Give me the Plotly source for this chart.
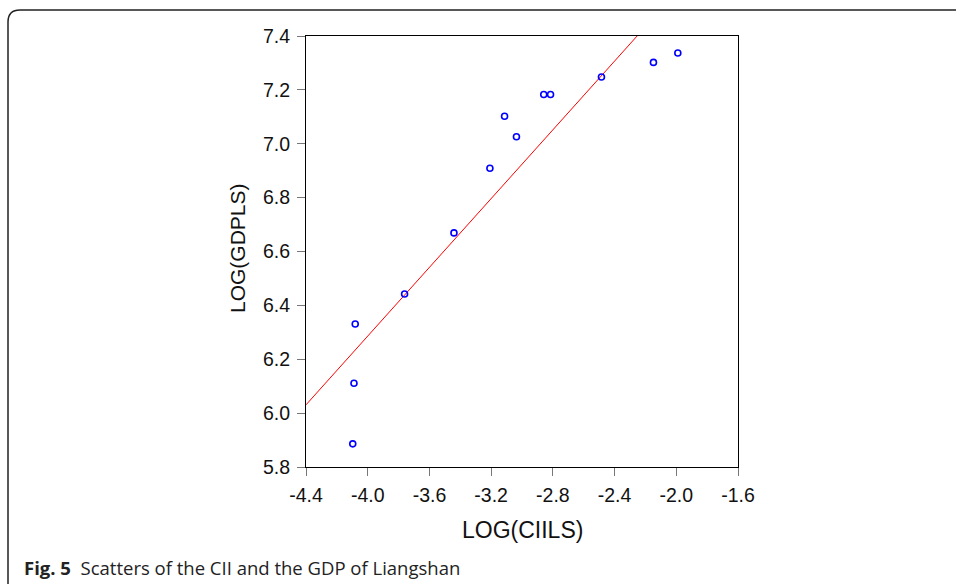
import numpy as np
import plotly.graph_objects as go

# Data
log_ciils = [-4.097, -4.089, -4.081, -3.761, -3.441, -3.208, -3.113, -3.036,
             -2.859, -2.815, -2.485, -2.148, -1.990]
log_gdpls = [5.886, 6.111, 6.331, 6.442, 6.669, 6.909, 7.102, 7.026,
             7.183, 7.183, 7.248, 7.302, 7.337]
fit_intercept = 8.838
fit_slope = 0.638

x_ticks = [-4.4, -4.0, -3.6, -3.2, -2.8, -2.4, -2.0, -1.6]
y_ticks = [5.8, 6.0, 6.2, 6.4, 6.6, 6.8, 7.0, 7.2, 7.4]
x_range = [-4.4, -1.6]
y_range = [5.8, 7.4]

W, H = 956, 584
L, R, T, B = 306, 218, 36, 117
pw, ph = W - L - R, H - T - B

def px(x):
    return (x - L) / pw

def py(y):
    return (H - B - y) / ph

fx = np.linspace(x_range[0], x_range[1], 200)
fy = fit_intercept + fit_slope * fx

fig = go.Figure()
fig.add_trace(go.Scatter(x=fx, y=fy, mode="lines",
                         line=dict(color="#ff0000", width=1), hoverinfo="skip"))
fig.add_trace(go.Scatter(x=log_ciils, y=log_gdpls, mode="markers",
                         marker=dict(symbol="circle-open", size=6,
                                     color="#0000ff", line=dict(width=1.6))))

axis_common = dict(showgrid=False, zeroline=False, showline=True, linecolor="black",
                   linewidth=1, mirror=True, ticks="outside", ticklen=8,
                   tickcolor="#777777", tickwidth=1.3, ticklabelstandoff=3,
                   tickfont=dict(family="Liberation Sans, Arial", size=19.5, color="#111111"))

fig.update_xaxes(range=x_range, tickvals=x_ticks,
                 ticktext=[f"{v:.1f}" for v in x_ticks], **axis_common)
fig.update_yaxes(range=y_range, tickvals=y_ticks,
                 ticktext=[f"{v:.1f}" for v in y_ticks], **axis_common)

# Frame around figure (top line, rounded corner, left line)
r = 12
x0, y0 = 8, 10
path = (f"M {px(W + 5)},{py(y0)} L {px(x0 + r)},{py(y0)} "
        f"Q {px(x0)},{py(y0)} {px(x0)},{py(y0 + r)} L {px(x0)},{py(H + 5)}")
fig.add_shape(type="path", path=path, xref="paper", yref="paper",
              line=dict(color="#222222", width=1.5))

fig.add_annotation(text="LOG(CIILS)", x=px(522), y=py(530), xref="paper", yref="paper",
                   xanchor="center", yanchor="middle", showarrow=False,
                   font=dict(family="Liberation Sans, Arial", size=23, color="#111111"))
fig.add_annotation(text="LOG(GDPLS)", x=px(237), y=py(248), xref="paper", yref="paper",
                   xanchor="center", yanchor="middle", textangle=-90, showarrow=False,
                   font=dict(family="Liberation Sans, Arial", size=21, color="#111111"))
fig.add_annotation(text="<b>Fig. 5</b>  Scatters of the CII and the GDP of Liangshan",
                   x=px(22), y=py(567), xref="paper", yref="paper",
                   xanchor="left", yanchor="middle", showarrow=False,
                   font=dict(family="Open Sans", size=18.5, color="#222222"))

fig.update_layout(width=W, height=H, margin=dict(l=L, r=R, t=T, b=B),
                  plot_bgcolor="white", paper_bgcolor="white", showlegend=False)

fig.write_html("out.html", config={"displayModeBar": False},
               post_script="document.body.style.margin='0';document.body.style.overflow='hidden';")
